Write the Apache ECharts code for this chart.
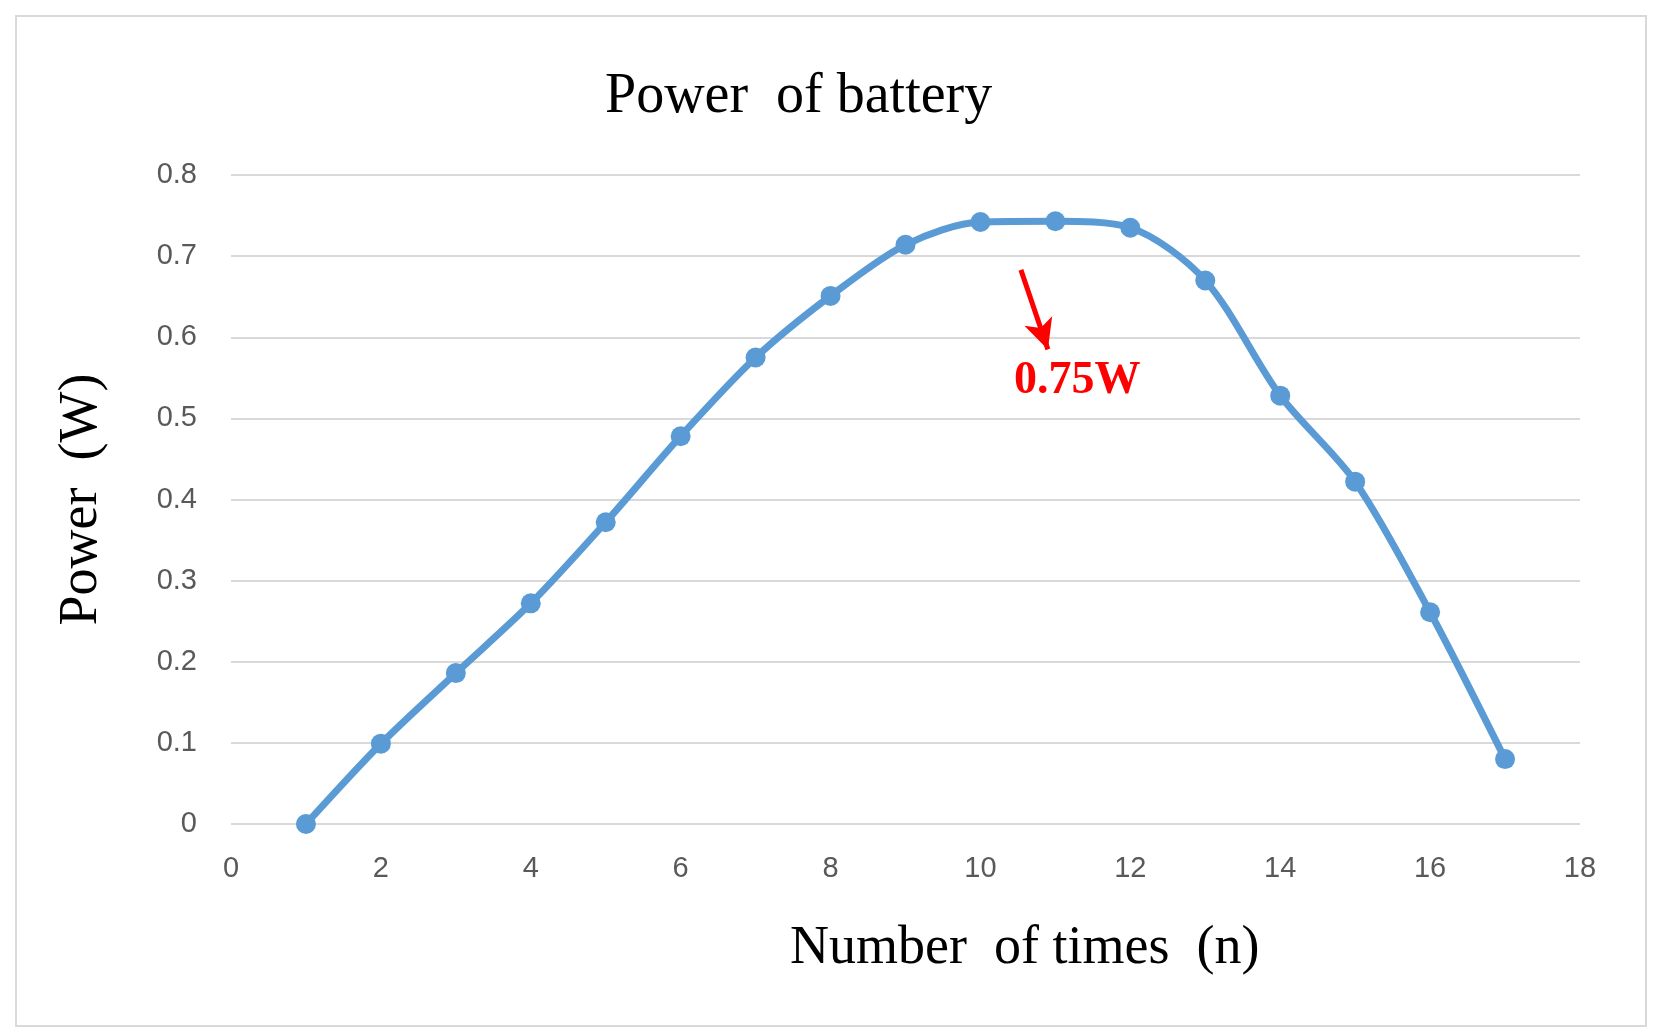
<!DOCTYPE html>
<html><head><meta charset="utf-8">
<script src="https://cdn.jsdelivr.net/npm/echarts@6/dist/echarts.min.js"></script>
<style>html,body{margin:0;padding:0;background:#fff}#Chart{width:1663px;height:1036px}</style>
</head><body><div id="Chart"></div>
<script>
var xdata=[1,2,3,4,5,6,7,8,9,10,11,12,13,14,15,16,17]
var ydata=[0,0.099,0.186,0.272,0.372,0.478,0.575,0.651,0.714,0.742,0.743,0.735,0.670,0.528,0.422,0.261,0.080]

var serie=[]
$each=function(a,f){for(var i=0;i<a.length;i++)f(i,a[i])}
$each(xdata,function(i,item){serie.push([item,ydata[i]])})

var myChart=echarts.init(document.getElementById('Chart'))
option={
	animation:false,
	title:{text:'Power  of battery',left:600,top:64,
		textStyle:{fontFamily:'Liberation Serif',fontSize:56,fontWeight:'normal',color:'#000'}},
	grid:{left:231,right:83,top:175,bottom:212},
	xAxis:{type:'value',min:0,max:18,interval:2,
		axisLine:{show:false},axisTick:{show:false},splitLine:{show:false},
		axisLabel:{color:'#595959',fontSize:29,margin:30,fontFamily:'Liberation Sans'}},
	yAxis:{type:'value',min:0,max:0.8,interval:0.1,
		name:'Power  (W)',nameLocation:'middle',nameGap:122,
		nameTextStyle:{fontFamily:'Liberation Serif',fontSize:54,color:'#000'},
		axisLine:{show:false},axisTick:{show:false},
		splitLine:{lineStyle:{color:'#d9d9d9',width:2}},
		axisLabel:{color:'#595959',fontSize:29,margin:34,fontFamily:'Liberation Sans'}},
	series:[{
		type:'line',smooth:0.3,data:serie,
		symbol:'circle',symbolSize:20,
		lineStyle:{color:'#5b9bd5',width:7},
		itemStyle:{color:'#5b9bd5'},
		markLine:{silent:true,symbol:['none','arrow'],symbolSize:[22,30],
			lineStyle:{color:'#ff0000',width:5,type:'solid'},label:{show:false},
			data:[[{coord:[10.54,0.683]},{coord:[10.9,0.585]}]]}
	}],
	graphic:[
		{type:'rect',shape:{x:16,y:16,width:1630,height:1010},style:{fill:'none',stroke:'#d9d9d9',lineWidth:2}},
		{type:'text',left:1014,top:358,style:{text:'0.75W',fill:'#ff0000',
			font:'bold 46px "Liberation Serif"'}},
		{type:'text',left:790,top:922,style:{text:'Number  of times  (n)',fill:'#000',
			font:'54px "Liberation Serif"'}}
	]
}
myChart.setOption(option)
</script></body></html>
